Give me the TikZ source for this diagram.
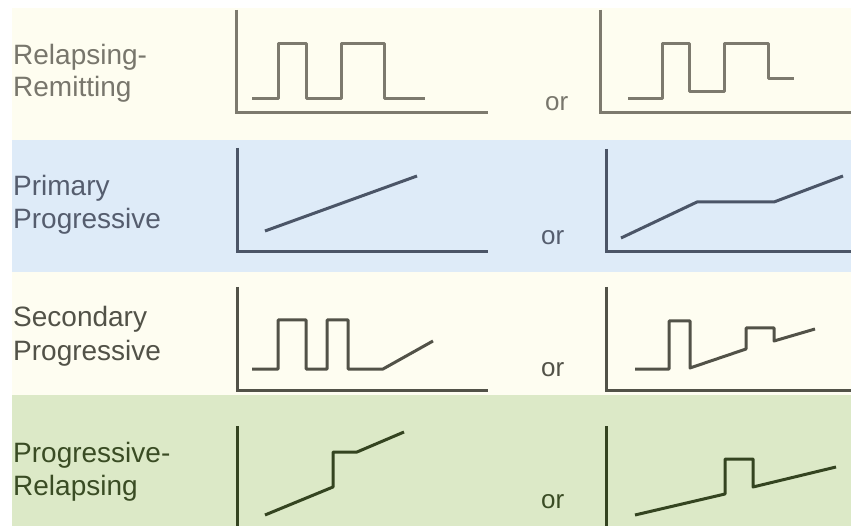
\documentclass[tikz,border=0pt]{standalone}
\usepackage{fontspec}
\setmainfont{Liberation Sans}
\definecolor{bgA}{RGB}{254,253,240}
\definecolor{bgB}{RGB}{222,235,248}
\definecolor{bgC}{RGB}{254,253,241}
\definecolor{bgD}{RGB}{220,233,199}
\definecolor{lnA}{RGB}{125,122,110}
\definecolor{lnB}{RGB}{75,85,103}
\definecolor{lnC}{RGB}{82,82,72}
\definecolor{lnD}{RGB}{52,68,32}
\definecolor{txA}{RGB}{120,118,108}
\definecolor{txB}{RGB}{85,93,110}
\definecolor{txC}{RGB}{82,82,72}
\definecolor{txD}{RGB}{58,76,36}
\begin{document}
\begin{tikzpicture}[x=1pt,y=-1pt,
  lbl/.style={anchor=base west,inner sep=0pt,font=\fontsize{28}{33}\selectfont},
  ortxt/.style={anchor=base west,inner sep=0pt,font=\fontsize{26}{30}\selectfont},
  axis/.style={line width=3pt,line join=miter},
  sig/.style={line width=3pt,line join=round,line cap=butt}]
\useasboundingbox (0,0) rectangle (851,526);
% backgrounds
\fill[white] (0,0) rectangle (851,526);
\fill[bgA] (12,8) rectangle (851,140);
\fill[bgB] (12,140) rectangle (851,272);
\fill[bgC] (12,272) rectangle (851,395);
\fill[bgD] (12,395) rectangle (851,526);
% labels
\node[lbl,text=txA] (l1a) at (13,65) {Relapsing-};
\node[lbl,text=txA] (l1b) at (13,97) {Remitting};
\node[lbl,text=txB] (l2a) at (13,196) {Primary};
\node[lbl,text=txB] (l2b) at (13,229) {Progressive};
\node[lbl,text=txC] (l3a) at (13,327) {Secondary};
\node[lbl,text=txC] (l3b) at (13,360) {Progressive};
\node[lbl,text=txD] (l4a) at (13,462) {Progressive-};
\node[lbl,text=txD] (l4b) at (13,495) {Relapsing};
% or
\node[ortxt,text=txA] (o1) at (545,111) {or};
\node[ortxt,text=txB] (o2) at (541,245) {or};
\node[ortxt,text=txC] (o3) at (541,377) {or};
\node[ortxt,text=txD] (o4) at (541,508) {or};
% row 1
\draw[axis,lnA] (236,10) -- (236,113) -- (488,113);
\draw[sig,lnA] (252,99) -- (278,99) -- (278,44) -- (306,44) -- (306,99) -- (341,99) -- (341,44) -- (384,44) -- (384,99) -- (425,99);
\draw[axis,lnA] (600,10) -- (600,113) -- (851,113);
\draw[sig,lnA] (628,99) -- (662,99) -- (662,44) -- (689,44) -- (689,92) -- (724,92) -- (724,44) -- (768,44) -- (768,79) -- (794,79);
% row 2
\draw[axis,lnB] (237,148) -- (237,252) -- (488,252);
\draw[sig,lnB] (265,231) -- (417,176);
\draw[axis,lnB] (606,149) -- (606,252) -- (851,252);
\draw[sig,lnB] (621,238) -- (697,202) -- (774,202) -- (843,176);
% row 3
\draw[axis,lnC] (237,287) -- (237,390) -- (488,390);
\draw[sig,lnC] (252,369) -- (278,369) -- (278,320) -- (306,320) -- (306,369) -- (327,369) -- (327,320) -- (348,320) -- (348,369) -- (383,369) -- (433,341);
\draw[axis,lnC] (606,287) -- (606,390) -- (851,390);
\draw[sig,lnC] (635,369) -- (669,369) -- (669,321) -- (690,321) -- (690,368) -- (746,349) -- (746,328) -- (774,328) -- (774,341) -- (815,329);
% row 4
\draw[axis,lnD] (237,426) -- (237,526);
\draw[sig,lnD] (265,515) -- (333,487) -- (333,452) -- (357,452) -- (404,432);
\draw[axis,lnD] (606,426) -- (606,526);
\draw[sig,lnD] (635,515) -- (725,494) -- (725,459) -- (753,459) -- (753,487) -- (836,467);
\end{tikzpicture}
\end{document}
